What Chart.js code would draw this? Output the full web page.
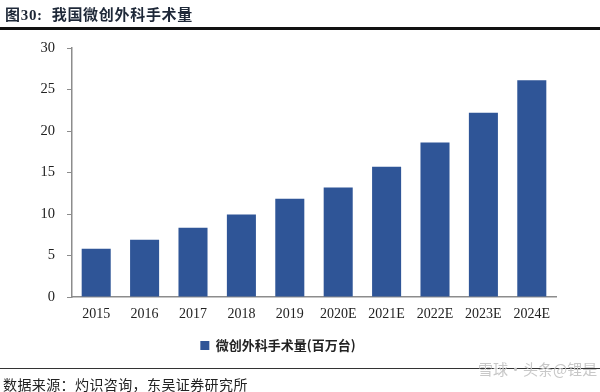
<!DOCTYPE html>
<html>
<head>
<meta charset="utf-8">
<script src="https://cdn.jsdelivr.net/npm/chart.js@4"></script>
<style>
    html, body { margin: 0; padding: 0; background: #fff; }
    #wrap { position: relative; width: 600px; height: 392px; overflow: hidden; }
    #chart-box { position: absolute; left: 0; top: 0; width: 600px; height: 392px; }
    .title { position: absolute; left: 5px; top: 3px; font: bold 15px "Liberation Serif", "Noto Sans CJK SC", serif; color: #1e2838; letter-spacing: 0.7px; }
    .title-line { position: absolute; left: 0; top: 27px; width: 600px; height: 2.5px; background: #111; }
    .src-line { position: absolute; left: 0; top: 368px; width: 600px; height: 1px; background: #333; }
    .source { position: absolute; left: 3px; top: 374px; font: 14px "Noto Sans CJK SC", sans-serif; color: #222; letter-spacing: 0.4px; }
    .mark { position: absolute; left: 478px; top: 358px; font: 15px "Noto Sans CJK SC", sans-serif; color: #c8c8c8; }
</style>
</head>
<body>
<div id="wrap">
    <div id="chart-box"><canvas id="surgeryChart" width="600" height="392"></canvas></div>
    <div class="title">图30:&nbsp; 我国微创外科手术量</div>
    <div class="title-line"></div>
    <div class="src-line"></div>
    <div class="source">数据来源：灼识咨询，东吴证券研究所</div>
    <div class="mark">雪球·头条@锂是</div>
</div>
<script>
// --- DATA ---
const years = ['2015', '2016', '2017', '2018', '2019', '2020E', '2021E', '2022E', '2023E', '2024E'];
const surgeryVolume = [5.8, 6.9, 8.35, 9.95, 11.85, 13.2, 15.7, 18.6, 22.2, 26.1];
const yTicks = [0, 5, 10, 15, 20, 25, 30];

const barColor = '#2F5597';
const axisColor = '#8c8c8c';

const ctx = document.getElementById('surgeryChart').getContext('2d');
new Chart(ctx, {
    type: 'bar',
    data: {
        labels: years,
        datasets: [{
            label: '微创外科手术量(百万台)',
            data: surgeryVolume,
            backgroundColor: barColor,
            borderWidth: 0,
            barPercentage: 0.6,
            categoryPercentage: 1.0
        }]
    },
    options: {
        responsive: false,
        animation: false,
        layout: { padding: { left: 0, right: 44, top: 48, bottom: 30 } },
        plugins: {
            tooltip: { enabled: false },
            legend: {
                position: 'bottom',
                labels: {
                    boxWidth: 9,
                    boxHeight: 9,
                    padding: 10,
                    color: '#222',
                    font: { family: '"Noto Sans CJK SC", sans-serif', size: 13, weight: 'bold' }
                }
            }
        },
        scales: {
            x: {
                grid: { display: false, drawTicks: false },
                border: { color: axisColor, width: 1.5 },
                ticks: {
                    color: '#222',
                    padding: 9,
                    maxRotation: 0,
                    font: { family: '"Liberation Serif", serif', size: 14 }
                },
                afterFit: (scale) => { scale.height = 32; }
            },
            y: {
                min: 0,
                max: 30,
                afterBuildTicks: (scale) => { scale.ticks = yTicks.map(v => ({ value: v })); },
                grid: { display: true, drawOnChartArea: false, drawTicks: true, tickLength: 5, color: axisColor },
                border: { color: axisColor, width: 1.5 },
                ticks: {
                    color: '#222',
                    padding: 12,
                    font: { family: '"Liberation Serif", serif', size: 14.5 }
                },
                afterFit: (scale) => { scale.width = 72; }
            }
        }
    }
});
</script>
</body>
</html>
